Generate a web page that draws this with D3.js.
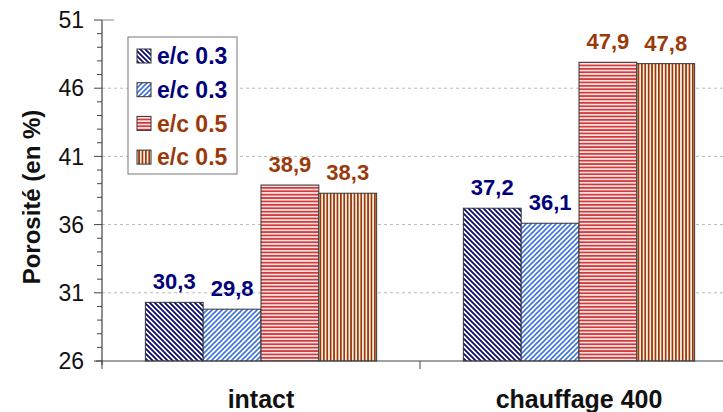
<!DOCTYPE html>
<html>
<head>
<meta charset="utf-8">
<script src="https://cdn.jsdelivr.net/npm/d3@7"></script>
<style>
  html, body { margin: 0; padding: 0; background: #fff; }
  svg { display: block; font-family: Arial, "Liberation Sans", sans-serif; }
</style>
</head>
<body>
<svg id="chart" width="723" height="412"></svg>
<script>
// Porosity measurements by condition and water/cement ratio
const categories = ["intact", "chauffage 400"];
const seriesNames = ["e/c 0.3", "e/c 0.3", "e/c 0.5", "e/c 0.5"];
const seriesA = [30.3, 37.2];   // e/c 0.3 (dark)
const seriesB = [29.8, 36.1];   // e/c 0.3 (light)
const seriesC = [38.9, 47.9];   // e/c 0.5 (horizontal)
const seriesD = [38.3, 47.8];   // e/c 0.5 (vertical)
const yTicks = [26, 31, 36, 41, 46, 51];

const series = [seriesA, seriesB, seriesC, seriesD];
const labelColors = ["#00007a", "#00007a", "#9a3a0a", "#9a3a0a"];

const svg = d3.select("#chart");
const margin = { left: 102, top: 20, bottom: 51 };
const plotRight = 738;
const height = 412;

const x0 = d3.scaleBand().domain(categories).range([margin.left, plotRight]).paddingInner(0).paddingOuter(0);
const x1 = d3.scaleBand().domain(d3.range(4)).range([0, x0.bandwidth()]).paddingInner(0).paddingOuter(0.75);
const y = d3.scaleLinear().domain([26, 51]).range([height - margin.bottom, margin.top]);

// Hatch patterns for the four series
const defs = svg.append("defs");
function pattern(id, size, bg, draw) {
  const p = defs.append("pattern").attr("id", id).attr("patternUnits", "userSpaceOnUse")
    .attr("width", size).attr("height", size);
  p.append("rect").attr("width", size).attr("height", size).attr("fill", bg);
  draw(p, size);
}
pattern("hatchA", 5, "#ffffff", (p, s) => {
  p.append("path").attr("d", `M0,0 L${s},${s} M${-s},0 L${s},${2*s} M0,${-s} L${2*s},${s}`)
    .attr("stroke", "#0a0a6e").attr("stroke-width", 1.8);
});
pattern("hatchB", 5, "#ffffff", (p, s) => {
  p.append("path").attr("d", `M0,${s} L${s},0 M${-s},${s} L${s},${-s} M0,${2*s} L${2*s},0`)
    .attr("stroke", "#3f73dc").attr("stroke-width", 1.6);
});
pattern("hatchC", 3.4, "#fae0e0", (p, s) => {
  p.append("rect").attr("x", 0).attr("y", 0).attr("width", s).attr("height", 1.7).attr("fill", "#d03a3a");
});
pattern("hatchD", 3.4, "#f8ecdf", (p, s) => {
  p.append("rect").attr("x", 0).attr("y", 0).attr("width", 1.7).attr("height", s).attr("fill", "#9a3a0a");
});
const fills = ["url(#hatchA)", "url(#hatchB)", "url(#hatchC)", "url(#hatchD)"];

// Gridlines at major ticks
svg.append("g").selectAll("line").data(yTicks.filter(t => t > 26 && t < 51)).join("line")
  .attr("x1", margin.left).attr("x2", plotRight)
  .attr("y1", d => y(d)).attr("y2", d => y(d))
  .attr("stroke", "#b8b8b8").attr("stroke-width", 1).attr("stroke-dasharray", "3,3");

// Bars and value labels
const groups = svg.append("g").selectAll("g").data(categories).join("g")
  .attr("transform", d => `translate(${x0(d)},0)`);
groups.each(function(cat, ci) {
  const g = d3.select(this);
  series.forEach((s, si) => {
    g.append("rect")
      .attr("x", x1(si)).attr("width", x1.bandwidth())
      .attr("y", y(s[ci])).attr("height", y(26) - y(s[ci]))
      .attr("fill", fills[si]).attr("stroke", "#333").attr("stroke-width", 1);
    g.append("text")
      .attr("x", x1(si) + x1.bandwidth() / 2).attr("y", y(s[ci]) - 13)
      .attr("text-anchor", "middle").attr("font-weight", "bold").attr("font-size", 22)
      .attr("fill", labelColors[si])
      .text(d3.format(".1f")(s[ci]).replace(".", ","));
  });
});

// Y axis with minor ticks
const yAxis = svg.append("g").attr("transform", `translate(${margin.left},0)`);
yAxis.append("line").attr("x1", 0).attr("x2", 0).attr("y1", y(51)).attr("y2", y(26) + 4)
  .attr("stroke", "#444").attr("stroke-width", 1.2);
yAxis.selectAll(".minor").data(d3.range(27, 51).filter(v => (v - 26) % 5 !== 0)).join("line")
  .attr("x1", -5).attr("x2", 0).attr("y1", d => y(d)).attr("y2", d => y(d))
  .attr("stroke", "#444");
yAxis.selectAll(".major").data(yTicks).join("line")
  .attr("x1", -8).attr("x2", 0).attr("y1", d => y(d)).attr("y2", d => y(d))
  .attr("stroke", "#444");
yAxis.append("line").attr("x1", 0).attr("x2", 12).attr("y1", y(51)).attr("y2", y(51))
  .attr("stroke", "#888");
yAxis.selectAll("text").data(yTicks).join("text")
  .attr("x", -18).attr("y", d => y(d)).attr("dy", "0.36em")
  .attr("text-anchor", "end").attr("font-size", 23).attr("fill", "#111")
  .text(d => d);

// X axis
const xAxis = svg.append("g");
xAxis.append("line").attr("x1", margin.left - 6).attr("x2", plotRight).attr("y1", y(26)).attr("y2", y(26))
  .attr("stroke", "#444").attr("stroke-width", 1.2);
xAxis.selectAll(".tick").data([margin.left, ...categories.map(c => x0(c) + x0.bandwidth())]).join("line")
  .attr("x1", d => d).attr("x2", d => d).attr("y1", y(26)).attr("y2", y(26) + 8)
  .attr("stroke", "#444");
xAxis.selectAll("text").data(categories).join("text")
  .attr("x", d => x0(d) + x0.bandwidth() / 2).attr("y", 408)
  .attr("text-anchor", "middle").attr("font-weight", "bold").attr("font-size", 25).attr("fill", "#111")
  .text(d => d);

// Y axis title
svg.append("text")
  .attr("transform", `translate(40,197) rotate(-90)`)
  .attr("text-anchor", "middle").attr("font-weight", "bold").attr("font-size", 24).attr("fill", "#111")
  .text("Porosité (en %)");

// Legend
const legend = svg.append("g").attr("transform", "translate(128,37)");
legend.append("rect").attr("width", 109).attr("height", 137)
  .attr("fill", "#fff").attr("stroke", "#777").attr("stroke-width", 1);
seriesNames.forEach((name, i) => {
  const cy = 19 + i * 33.7;
  legend.append("rect").attr("x", 9).attr("y", cy - 7).attr("width", 14).attr("height", 14)
    .attr("fill", fills[i]).attr("stroke", "#333").attr("stroke-width", 1);
  legend.append("text").attr("x", 29).attr("y", cy).attr("dy", "0.36em")
    .attr("font-weight", "bold").attr("font-size", 23).attr("fill", labelColors[i])
    .text(name);
});
</script>
</body>
</html>
